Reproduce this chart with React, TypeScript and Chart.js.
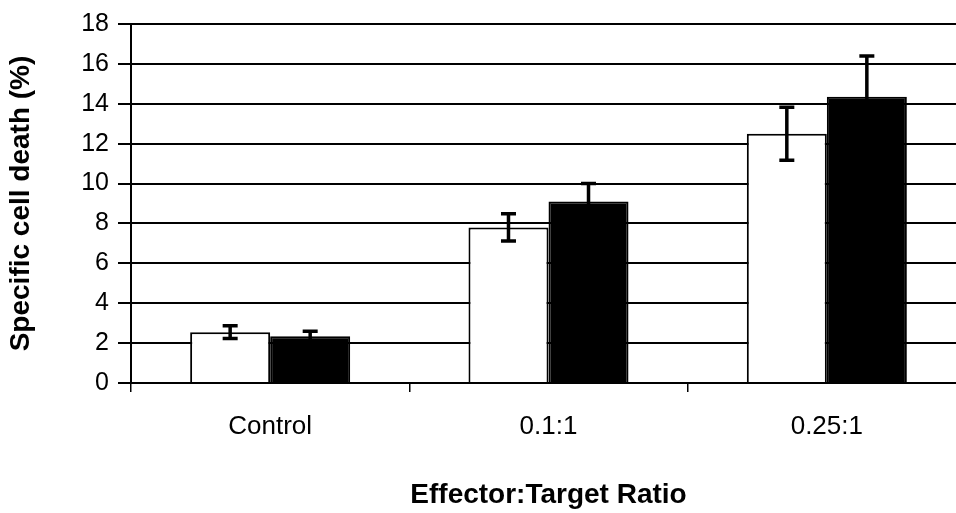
import React, { useEffect, useRef } from "react";
import { Chart, registerables } from "chart.js";

Chart.register(...registerables);

const categories = ["Control", "0.1:1", "0.25:1"];
const whiteValues = [2.55, 7.8, 12.5];
const whiteErrors = [0.32, 0.68, 1.33];
const blackValues = [2.35, 9.1, 14.35];
const blackErrors = [0.25, 0.9, 2.05];
const yTicks = [0, 2, 4, 6, 8, 10, 12, 14, 16, 18];

const FONT = "'Liberation Sans', Arial, sans-serif";

const errorBarPlugin = {
  id: "errorBars",
  afterDatasetsDraw(chart: any) {
    const ctx = chart.ctx;
    const yScale = chart.scales.y;
    const errs = [whiteErrors, blackErrors];
    chart.data.datasets.forEach((ds: any, di: number) => {
      const meta = chart.getDatasetMeta(di);
      meta.data.forEach((el: any, i: number) => {
        const v = ds.data[i];
        const e = errs[di][i];
        const x = el.x;
        const yt = yScale.getPixelForValue(v + e);
        const yb = yScale.getPixelForValue(v - e);
        ctx.save();
        ctx.strokeStyle = "#000";
        ctx.lineWidth = 3.5;
        ctx.beginPath();
        ctx.moveTo(x, yt);
        ctx.lineTo(x, yb);
        ctx.moveTo(x - 7.5, yt);
        ctx.lineTo(x + 7.5, yt);
        ctx.moveTo(x - 7.5, yb);
        ctx.lineTo(x + 7.5, yb);
        ctx.stroke();
        ctx.restore();
      });
    });
  },
};

export default function App() {
  const ref = useRef<HTMLCanvasElement>(null);
  useEffect(() => {
    if (!ref.current) return;
    const chart = new Chart(ref.current, {
      type: "bar",
      data: {
        labels: categories,
        datasets: [
          {
            label: "white",
            data: whiteValues,
            backgroundColor: "#ffffff",
            borderColor: "#000000",
            borderWidth: 2,
            categoryPercentage: 0.575,
            barPercentage: 1,
          },
          {
            label: "black",
            data: blackValues,
            backgroundColor: "#000000",
            borderColor: "#000000",
            borderWidth: 2,
            categoryPercentage: 0.575,
            barPercentage: 1,
          },
        ],
      },
      options: {
        responsive: false,
        animation: false,
        layout: { padding: { top: 24, right: 34, left: 0, bottom: 0 } },
        plugins: { legend: { display: false }, tooltip: { enabled: false } },
        scales: {
          x: {
            afterFit: (s: any) => {
              s.height = 130;
            },
            grid: {
              drawOnChartArea: false,
              drawTicks: true,
              tickLength: 9,
              color: "#000",
              lineWidth: 1.5,
            },
            border: { color: "#000", width: 2 },
            ticks: {
              color: "#000",
              font: { family: FONT, size: 26 },
              padding: 19,
              maxRotation: 0,
            },
            title: {
              display: true,
              text: "Effector:Target Ratio",
              color: "#000",
              font: { family: FONT, size: 28, weight: "bold" },
              padding: { top: 0, bottom: 1 },
            },
          },
          y: {
            min: 0,
            max: 18,
            afterFit: (s: any) => {
              s.width = 131;
            },
            afterBuildTicks: (s: any) => {
              s.ticks = yTicks.map((v) => ({ value: v }));
            },
            grid: {
              color: "#000",
              lineWidth: 2,
              tickLength: 13,
              drawTicks: true,
            },
            border: { color: "#000", width: 2 },
            ticks: {
              color: "#000",
              font: { family: FONT, size: 25 },
              padding: 9,
            },
            title: {
              display: true,
              text: "Specific cell death (%)",
              color: "#000",
              font: { family: FONT, size: 28, weight: "bold" },
              padding: { top: 4, bottom: 0 },
            },
          },
        },
      },
      plugins: [errorBarPlugin],
    } as any);
    return () => chart.destroy();
  }, []);
  return (
    <div
      style={{
        position: "absolute",
        left: 0,
        top: 0,
        width: 956,
        height: 513,
        overflow: "hidden",
        background: "#fff",
      }}
    >
      <canvas ref={ref} width={1000} height={513} style={{ width: 1000, height: 513, display: "block" }} />
    </div>
  );
}
